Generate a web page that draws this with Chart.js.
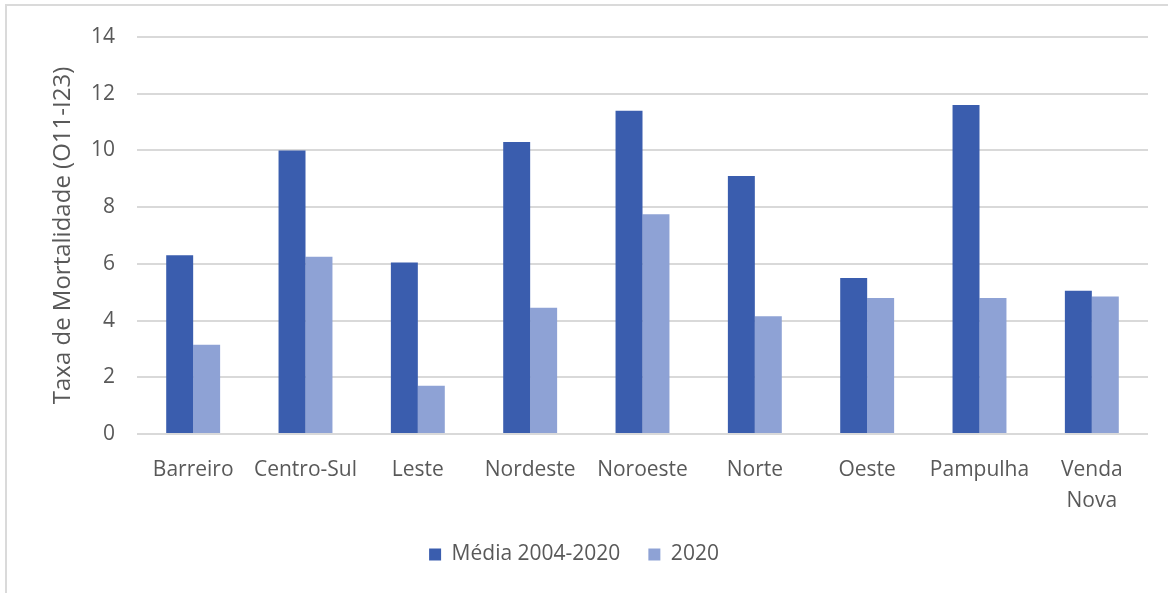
<!DOCTYPE html>
<html>
<head>
<meta charset="utf-8">
<script src="https://cdn.jsdelivr.net/npm/chart.js@4.4.0/dist/chart.umd.min.js"></script>
<style>
    body { margin: 0; background: #fff; }
    #frame {
        position: absolute; left: 5px; top: 4px; width: 1163px; height: 589px;
        border-top: 2px solid #dadada; border-left: 2px solid #dadada;
    }
    #chart { position: absolute; left: 0; top: 0; }
</style>
</head>
<body>
<div id="frame"></div>
<canvas id="chart" width="1168" height="593"></canvas>
<script>
const categories = ['Barreiro', 'Centro-Sul', 'Leste', 'Nordeste', 'Noroeste', 'Norte', 'Oeste', 'Pampulha', ['Venda', 'Nova']];
const media2004_2020 = [6.3, 10.0, 6.05, 10.3, 11.4, 9.1, 5.5, 11.6, 5.05];
const valores2020 = [3.15, 6.25, 1.7, 4.45, 7.75, 4.15, 4.8, 4.8, 4.85];
const yTicks = [0, 2, 4, 6, 8, 10, 12, 14];

var fontFamily = "'Open Sans', sans-serif";
var textColor = '#595959';

var ctx = document.getElementById('chart').getContext('2d');
var myChart = new Chart(ctx, {
    type: 'bar',
    data: {
        labels: categories,
        datasets: [{
            label: 'Média 2004-2020',
            data: media2004_2020,
            backgroundColor: '#3A5DAE',
            categoryPercentage: 0.48,
            barPercentage: 1.0
        }, {
            label: '2020',
            data: valores2020,
            backgroundColor: '#8EA2D5',
            categoryPercentage: 0.48,
            barPercentage: 1.0
        }]
    },
    options: {
        responsive: false,
        animation: false,
        layout: {
            padding: { left: 0, top: 37, right: 20, bottom: 18 }
        },
        plugins: {
            tooltip: { enabled: false },
            legend: {
                position: 'bottom',
                labels: {
                    boxWidth: 12,
                    boxHeight: 12,
                    padding: 28,
                    color: textColor,
                    font: { family: fontFamily, size: 21 }
                }
            }
        },
        scales: {
            x: {
                grid: { display: false },
                border: { display: false },
                ticks: {
                    color: textColor,
                    padding: 12,
                    maxRotation: 0,
                    font: { family: fontFamily, size: 21, lineHeight: 1.5 }
                },
                afterFit: function (scale) { scale.height = 82; }
            },
            y: {
                min: 0,
                max: 14,
                afterBuildTicks: function (scale) {
                    scale.ticks = yTicks.map(function (v) { return { value: v }; });
                },
                grid: { color: '#d9d9d9', lineWidth: 2, drawTicks: false },
                border: { display: false },
                ticks: {
                    color: textColor,
                    padding: 22,
                    font: { family: fontFamily, size: 21 }
                },
                title: {
                    display: true,
                    text: 'Taxa de Mortalidade (O11-I23)',
                    color: textColor,
                    padding: { top: 49, bottom: 0 },
                    font: { family: fontFamily, size: 24 }
                },
                afterFit: function (scale) { scale.width = 137; }
            }
        }
    }
});
</script>
</body>
</html>
